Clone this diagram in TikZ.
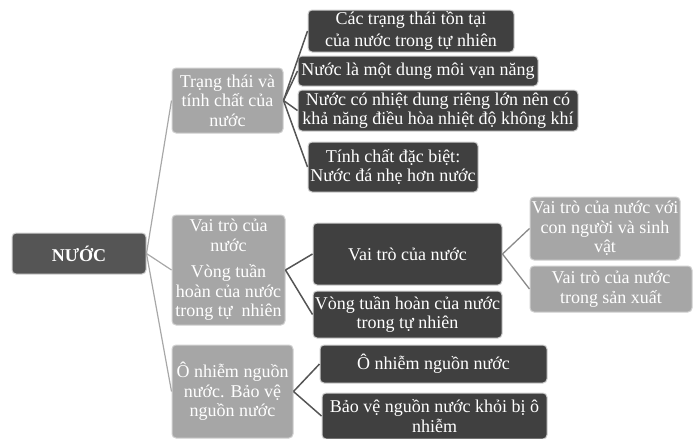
\documentclass[tikz,border=0pt]{standalone}
\usepackage{fontspec}
\setmainfont{Liberation Serif}
\definecolor{darkbox}{HTML}{404040}
\definecolor{rootbox}{HTML}{555555}
\definecolor{lightbox}{HTML}{A6A6A6}
\definecolor{rimc}{HTML}{D0D0D0}
\definecolor{lineL}{HTML}{A8A8A8}
\definecolor{lineD}{HTML}{555555}
\definecolor{lineM}{HTML}{8A8A8A}
\tikzset{
  box/.style={rounded corners=4pt, draw=rimc, line width=1pt, text=white, align=center,
    inner sep=1pt, font=\fontsize{18}{19.5}\selectfont},
  darkb/.style={box, fill=darkbox},
  rootb/.style={box, fill=rootbox, font=\fontsize{18}{19.5}\selectfont\bfseries},
  lightb/.style={box, fill=lightbox},
  linkL/.style={draw=lineL, line width=1.2pt},
  linkD/.style={draw=lineD, line width=1.5pt},
  linkM/.style={draw=lineM, line width=1.3pt},
}
\begin{document}
\begin{tikzpicture}[x=1pt,y=-1pt]
\useasboundingbox (0,0) rectangle (697,439);
% root
\node[rootb, minimum width=134pt, minimum height=41pt] (root) at (79,253.5) {NƯỚC};
% level 1
\node[lightb, minimum width=111pt, minimum height=65pt] (A) at (227.5,100.5) {Trạng thái và\\tính chất của\\nước};
\node[lightb, minimum width=113pt, minimum height=110pt] (B) at (228.5,270) {Vai trò của\\nước\\[7pt]Vòng tuần\\hoàn của nước\\trong tự \ nhiên};
\node[lightb, minimum width=121pt, minimum height=93pt] (C) at (232.5,391.5) {Ô nhiễm nguồn\\nước. Bảo vệ\\nguồn nước};
% level 2
\node[darkb, minimum width=206pt, minimum height=42pt] (A1) at (411,31) {Các trạng thái tồn tại\\[3pt]của nước trong tự nhiên};
\node[darkb, minimum width=240pt, minimum height=30pt] (A2) at (418,71) {Nước là một dung môi vạn năng};
\node[darkb, minimum width=280pt, minimum height=41pt] (A3) at (438,110.5) {Nước có nhiệt dung riêng lớn nên có\\khả năng điều hòa nhiệt độ không khí};
\node[darkb, minimum width=170pt, minimum height=50pt] (A4) at (393,167) {Tính chất đặc biệt:\\Nước đá nhẹ hơn nước};
\node[darkb, minimum width=189pt, minimum height=62pt] (B1) at (407.5,254) {Vai trò của nước};
\node[darkb, minimum width=189pt, minimum height=47pt] (B2) at (407.5,314.5) {Vòng tuần hoàn của nước\\trong tự nhiên};
\node[darkb, minimum width=227pt, minimum height=38pt] (C1) at (433.5,364) {Ô nhiễm nguồn nước};
\node[darkb, minimum width=225pt, minimum height=46pt] (C2) at (434.5,416) {Bảo vệ nguồn nước khỏi bị ô\\nhiễm};
% level 3
\node[lightb, minimum width=150pt, minimum height=63pt] (D1) at (605,228.5) {Vai trò của nước với\\con người và sinh\\vật};
\node[lightb, minimum width=162pt, minimum height=46pt] (D2) at (611,289) {Vai trò của nước\\trong sản xuất};
% connectors
\draw[linkL] (root.east) -- (A.west);
\draw[linkL] (root.east) -- (B.west);
\draw[linkL] (root.east) -- (C.west);
\foreach \t in {A1,A2,A3,A4} \draw[linkD] (A.east) -- (\t.west);
\foreach \t in {B1,B2} \draw[linkD] (B.east) -- (\t.west);
\foreach \t in {C1,C2} \draw[linkD] (C.east) -- (\t.west);
\foreach \t in {D1,D2} \draw[linkM] (B1.east) -- (\t.west);
\end{tikzpicture}
\end{document}
